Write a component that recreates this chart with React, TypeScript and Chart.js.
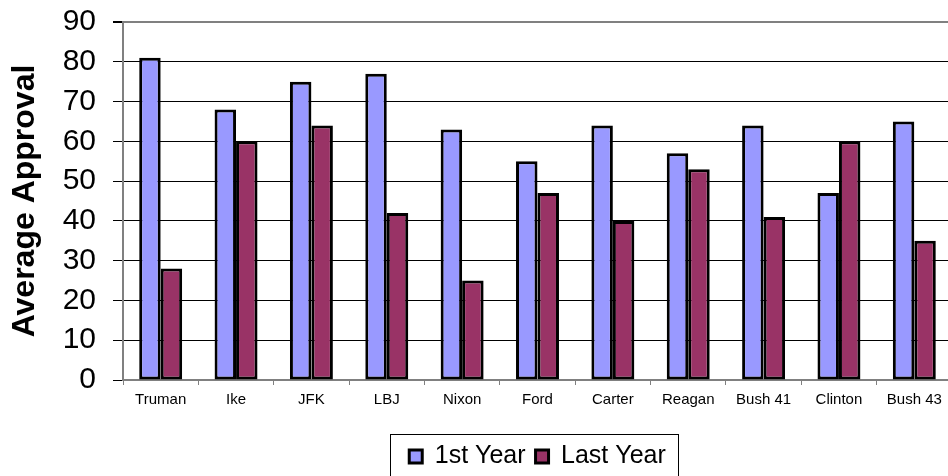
import React, { useEffect, useRef } from 'react';
import { Chart, registerables } from 'chart.js';

Chart.register(...registerables);

const categories = ['Truman', 'Ike', 'JFK', 'LBJ', 'Nixon', 'Ford', 'Carter', 'Reagan', 'Bush 41', 'Clinton', 'Bush 43'];
const firstYear = [81, 68, 75, 77, 63, 55, 64, 57, 64, 47, 65];
const lastYear = [28, 60, 64, 42, 25, 47, 40, 53, 41, 60, 35];
const seriesNames = ['1st Year', 'Last Year'];
const yMin = 0;
const yMax = 90;
const yStep = 10;
const yTitle = 'Average Approval';

const FONT = "'Liberation Sans', Arial, Helvetica, sans-serif";

const legendBorder = {
  id: 'legendBorder',
  afterDraw(chart: any) {
    const lg = chart.legend;
    const hb = lg && lg.legendHitBoxes;
    if (!hb || !hb.length) return;
    const left = Math.min(...hb.map((h: any) => h.left)) - 19;
    const right = Math.max(...hb.map((h: any) => h.left + h.width)) + 12;
    const top = hb[0].top - 10;
    const ctx = chart.ctx;
    ctx.save();
    ctx.strokeStyle = '#000';
    ctx.lineWidth = 1;
    ctx.strokeRect(Math.round(left) + 0.5, Math.round(top) + 0.5, Math.round(right - left), chart.height - top + 10);
    ctx.restore();
  },
};

export default function App() {
  const ref = useRef<HTMLCanvasElement | null>(null);

  useEffect(() => {
    document.body.style.margin = '0';
    document.body.style.overflow = 'hidden';
    const canvas = ref.current;
    if (!canvas) return;
    const chart = new Chart(canvas, {
      type: 'bar',
      data: {
        labels: categories,
        datasets: [
          {
            label: seriesNames[0],
            data: firstYear,
            backgroundColor: '#9999FF',
            borderColor: '#000',
            borderWidth: 3,
            borderSkipped: false,
            categoryPercentage: 0.57,
            barPercentage: 1.0,
          },
          {
            label: seriesNames[1],
            data: lastYear,
            backgroundColor: '#993366',
            borderColor: '#000',
            borderWidth: 3,
            borderSkipped: false,
            categoryPercentage: 0.57,
            barPercentage: 1.0,
          },
        ],
      },
      options: {
        responsive: false,
        maintainAspectRatio: false,
        animation: false,
        devicePixelRatio: 1,
        layout: { padding: { top: 22, right: 0, bottom: 0, left: 0 } },
        plugins: {
          tooltip: { enabled: false },
          legend: {
            display: true,
            position: 'bottom',
            fullSize: false,
            labels: {
              boxWidth: 13,
              boxHeight: 13,
              padding: 10,
              color: '#000',
              font: { family: FONT, size: 25 },
            },
          },
        },
        scales: {
          x: {
            afterFit: (scale: any) => {
              scale.height = 54;
              scale.paddingLeft = 0;
              scale.paddingRight = 0;
              scale.paddingTop = 0;
              scale.paddingBottom = 0;
            },
            grid: {
              display: true,
              drawOnChartArea: false,
              drawTicks: true,
              tickLength: 5,
              color: '#808080',
              offset: true,
            },
            border: { display: true, color: '#808080', width: 2 },
            ticks: {
              color: '#000',
              padding: 6,
              maxRotation: 0,
              autoSkip: false,
              font: { family: FONT, size: 15 },
            },
          },
          y: {
            min: yMin,
            max: yMax,
            afterFit: (scale: any) => {
              scale.width = 123;
              scale.paddingTop = 0;
              scale.paddingBottom = 0;
            },
            grid: {
              color: (c: any) => (c.tick && c.tick.value === yMax ? '#808080' : '#000'),
              lineWidth: (c: any) => (c.tick && c.tick.value === yMax ? 2 : 1),
              tickColor: '#000',
              tickLength: 10,
              drawTicks: true,
            },
            border: { display: true, color: '#808080', width: 2 },
            ticks: {
              stepSize: yStep,
              autoSkip: false,
              color: '#000',
              padding: 17,
              font: { family: FONT, size: 30 },
            },
            title: {
              display: true,
              text: yTitle,
              color: '#000',
              padding: { top: 6, bottom: 0 },
              font: { family: FONT, size: 32, weight: 'bold' },
            },
          },
        },
      },
      plugins: [legendBorder],
    });
    return () => chart.destroy();
  }, []);

  return (
    <div style={{ width: 952, height: 479, position: 'relative' }}>
      <canvas ref={ref} width={952} height={479} style={{ display: 'block', width: 952, height: 479 }} />
    </div>
  );
}
